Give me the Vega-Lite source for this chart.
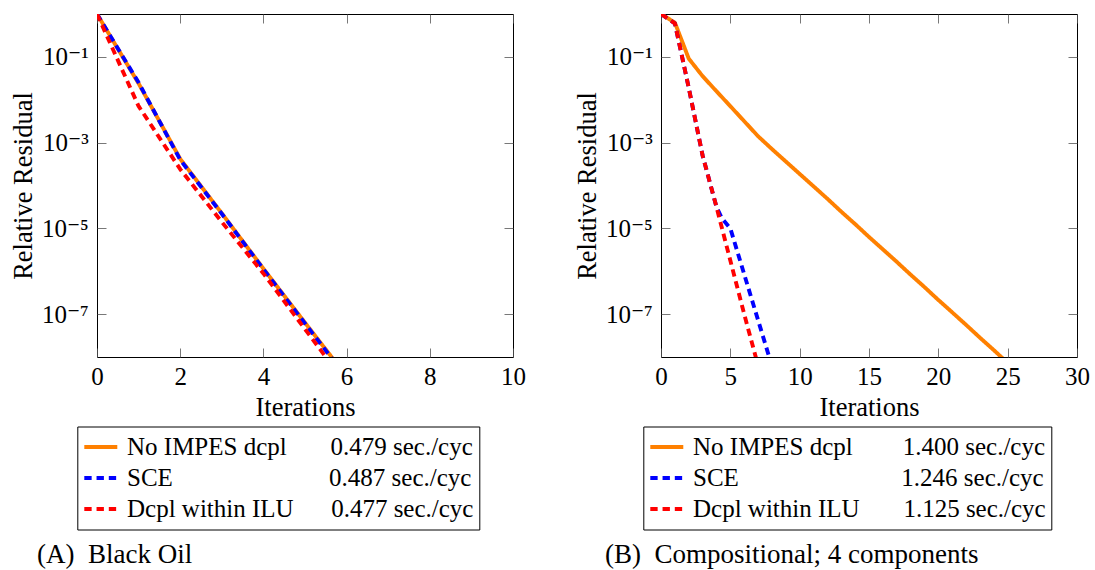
{
  "$schema": "https://vega.github.io/schema/vega-lite/v6.json",
  "background": "white",
  "padding": {"left": 9, "top": 13, "right": 5, "bottom": 0},
  "spacing": 148,
  "bounds": "flush",
  "config": {
    "font": "'Liberation Serif', 'Times New Roman', 'DejaVu Serif', serif",
    "view": {"stroke": "black", "strokeWidth": 1},
    "axis": {
      "labelFont": "'Liberation Serif', 'Times New Roman', 'DejaVu Serif', serif", "labelFontSize": 25, "labelColor": "black",
      "titleFont": "'Liberation Serif', 'Times New Roman', 'DejaVu Serif', serif", "titleFontSize": 26.5, "titleFontWeight": "normal", "titleColor": "black",
      "tickColor": "#555555", "tickWidth": 0.8, "tickSize": -9,
      "domain": false, "grid": false, "labelFlush": false, "labelOverlap": false, "labelBound": false
    },
    "legend": {
      "symbolType": "stroke", "symbolSize": 1089, "symbolStrokeWidth": 3.9,
      "clipHeight": 31, "rowPadding": 0, "padding": 5, "labelOffset": 7.7,
      "labelFont": "'Liberation Serif', 'Times New Roman', 'DejaVu Serif', serif", "labelFontSize": 25, "labelColor": "black", "labelLimit": 600,
      "strokeColor": "black", "fillColor": "white", "cornerRadius": 0
    },
    "title": {"font": "'Liberation Serif', 'Times New Roman', 'DejaVu Serif', serif", "fontSize": 27, "fontWeight": "normal", "color": "black"},
    "line": {"strokeWidth": 3.9, "strokeCap": "butt", "strokeJoin": "round"}
  },
  "resolve": {
    "scale": {"color": "independent", "strokeDash": "independent"},
    "legend": {"color": "independent", "strokeDash": "independent"}
  },
  "hconcat": [
    {
      "width": 416, "height": 343,
      "title": {"text": "(A)\u00a0\u00a0Black Oil", "orient": "bottom", "anchor": "start", "frame": "group", "dx": -60, "offset": 12},
      "data": {"values": [
        {"series": "No IMPES dcpl", "iter": 0, "res": 1},
        {"series": "No IMPES dcpl", "iter": 1, "res": 0.0240},
        {"series": "No IMPES dcpl", "iter": 2, "res": 4.17e-4},
        {"series": "No IMPES dcpl", "iter": 3, "res": 2.24e-5},
        {"series": "No IMPES dcpl", "iter": 4, "res": 1.15e-6},
        {"series": "No IMPES dcpl", "iter": 5, "res": 6.31e-8},
        {"series": "No IMPES dcpl", "iter": 6, "res": 3.55e-9},
        {"series": "SCE", "iter": 0, "res": 1},
        {"series": "SCE", "iter": 1, "res": 0.0251},
        {"series": "SCE", "iter": 2, "res": 3.98e-4},
        {"series": "SCE", "iter": 3, "res": 2.19e-5},
        {"series": "SCE", "iter": 4, "res": 1.12e-6},
        {"series": "SCE", "iter": 5, "res": 6.03e-8},
        {"series": "SCE", "iter": 6, "res": 3.31e-9},
        {"series": "Dcpl within ILU", "iter": 0, "res": 1},
        {"series": "Dcpl within ILU", "iter": 1, "res": 7.08e-3},
        {"series": "Dcpl within ILU", "iter": 2, "res": 2.40e-4},
        {"series": "Dcpl within ILU", "iter": 3, "res": 1.41e-5},
        {"series": "Dcpl within ILU", "iter": 4, "res": 8.91e-7},
        {"series": "Dcpl within ILU", "iter": 5, "res": 4.47e-8},
        {"series": "Dcpl within ILU", "iter": 6, "res": 2.24e-9}
      ]},
      "encoding": {
        "color": {
          "field": "series", "type": "nominal",
          "scale": {"domain": ["No IMPES dcpl", "SCE", "Dcpl within ILU"], "range": ["#ff8000", "#0000ff", "#ff0000"]},
          "legend": {
            "title": null, "orient": "none", "legendX": -19.7, "legendY": 412.5,
            "labelExpr": "datum.label == 'No IMPES dcpl' ? 'No IMPES dcpl' + pad('', 7, '\u00a0') + '0.479 sec./cyc\u00a0' : datum.label == 'SCE' ? 'SCE' + pad('', 25, '\u00a0') + '0.487 sec./cyc\u00a0' : 'Dcpl within ILU' + pad('', 6, '\u00a0') + '0.477 sec./cyc\u00a0'"
          }
        },
        "strokeDash": {
          "field": "series", "type": "nominal",
          "scale": {"domain": ["No IMPES dcpl", "SCE", "Dcpl within ILU"], "range": [[1, 0], [7.35, 4.9], [7.35, 4.9]]},
          "legend": {
            "title": null, "orient": "none", "legendX": -19.7, "legendY": 412.5,
            "labelExpr": "datum.label == 'No IMPES dcpl' ? 'No IMPES dcpl' + pad('', 7, '\u00a0') + '0.479 sec./cyc\u00a0' : datum.label == 'SCE' ? 'SCE' + pad('', 25, '\u00a0') + '0.487 sec./cyc\u00a0' : 'Dcpl within ILU' + pad('', 6, '\u00a0') + '0.477 sec./cyc\u00a0'"
          }
        }
      },
      "layer": [
        {
          "transform": [{"filter": "datum.series == 'No IMPES dcpl'"}],
          "mark": {"type": "line", "clip": true},
          "encoding": {
            "x": {"field": "iter", "type": "quantitative", "scale": {"domain": [0, 10], "nice": false, "zero": false},
                  "axis": {"orient": "bottom", "values": [0, 2, 4, 6, 8, 10], "title": "Iterations", "labelPadding": 16.6, "titlePadding": 5}},
            "y": {"field": "res", "type": "quantitative", "scale": {"type": "log", "domain": [1e-8, 1], "nice": false},
                  "axis": {"orient": "left", "values": [0.1, 0.001, 0.00001, 0.0000001], "title": "Relative Residual", "labelPadding": 17.7, "titlePadding": 4,
                           "labelExpr": "datum.value < 1e-6 ? '10\u207b\u2077' : datum.value < 1e-4 ? '10\u207b\u2075' : datum.value < 1e-2 ? '10\u207b\u00b3' : '10\u207b\u00b9'"}}
          }
        },
        {
          "transform": [{"filter": "datum.series == 'SCE'"}],
          "mark": {"type": "line", "clip": true},
          "encoding": {
            "x": {"field": "iter", "type": "quantitative", "scale": {"domain": [0, 10], "nice": false, "zero": false},
                  "axis": {"orient": "top", "values": [0, 2, 4, 6, 8, 10], "labels": false, "title": null}},
            "y": {"field": "res", "type": "quantitative", "scale": {"type": "log", "domain": [1e-8, 1], "nice": false},
                  "axis": {"orient": "right", "values": [0.1, 0.001, 0.00001, 0.0000001], "labels": false, "title": null}}
          }
        },
        {
          "transform": [{"filter": "datum.series == 'Dcpl within ILU'"}],
          "mark": {"type": "line", "clip": true},
          "encoding": {
            "x": {"field": "iter", "type": "quantitative", "scale": {"domain": [0, 10], "nice": false, "zero": false}, "axis": null},
            "y": {"field": "res", "type": "quantitative", "scale": {"type": "log", "domain": [1e-8, 1], "nice": false}, "axis": null}
          }
        }
      ],
      "resolve": {"axis": {"x": "independent", "y": "independent"}}
    },
    {
      "width": 416, "height": 343,
      "title": {"text": "(B)\u00a0\u00a0Compositional; 4 components", "orient": "bottom", "anchor": "start", "frame": "group", "dx": -56, "offset": 12},
      "data": {"values": [
        {"series": "No IMPES dcpl", "iter": 0, "res": 1},
        {"series": "No IMPES dcpl", "iter": 1, "res": 0.631},
        {"series": "No IMPES dcpl", "iter": 2, "res": 0.0912},
        {"series": "No IMPES dcpl", "iter": 3, "res": 0.0355},
        {"series": "No IMPES dcpl", "iter": 4, "res": 0.0158},
        {"series": "No IMPES dcpl", "iter": 5, "res": 0.00708},
        {"series": "No IMPES dcpl", "iter": 6, "res": 0.00316},
        {"series": "No IMPES dcpl", "iter": 7, "res": 0.00141},
        {"series": "No IMPES dcpl", "iter": 8, "res": 7.08e-4},
        {"series": "No IMPES dcpl", "iter": 9, "res": 3.63e-4},
        {"series": "No IMPES dcpl", "iter": 10, "res": 1.86e-4},
        {"series": "No IMPES dcpl", "iter": 11, "res": 9.55e-5},
        {"series": "No IMPES dcpl", "iter": 12, "res": 4.90e-5},
        {"series": "No IMPES dcpl", "iter": 13, "res": 2.45e-5},
        {"series": "No IMPES dcpl", "iter": 14, "res": 1.26e-5},
        {"series": "No IMPES dcpl", "iter": 15, "res": 6.31e-6},
        {"series": "No IMPES dcpl", "iter": 16, "res": 3.24e-6},
        {"series": "No IMPES dcpl", "iter": 17, "res": 1.66e-6},
        {"series": "No IMPES dcpl", "iter": 18, "res": 8.32e-7},
        {"series": "No IMPES dcpl", "iter": 19, "res": 4.27e-7},
        {"series": "No IMPES dcpl", "iter": 20, "res": 2.14e-7},
        {"series": "No IMPES dcpl", "iter": 21, "res": 1.10e-7},
        {"series": "No IMPES dcpl", "iter": 22, "res": 5.62e-8},
        {"series": "No IMPES dcpl", "iter": 23, "res": 2.82e-8},
        {"series": "No IMPES dcpl", "iter": 24, "res": 1.45e-8},
        {"series": "No IMPES dcpl", "iter": 25, "res": 7.24e-9},
        {"series": "SCE", "iter": 0, "res": 1},
        {"series": "SCE", "iter": 1, "res": 0.603},
        {"series": "SCE", "iter": 2, "res": 0.0191},
        {"series": "SCE", "iter": 3, "res": 5.01e-4},
        {"series": "SCE", "iter": 4, "res": 3.16e-5},
        {"series": "SCE", "iter": 4.4, "res": 1.70e-5},
        {"series": "SCE", "iter": 5, "res": 1.0e-5},
        {"series": "SCE", "iter": 6, "res": 8.51e-7},
        {"series": "SCE", "iter": 7, "res": 7.24e-8},
        {"series": "SCE", "iter": 8, "res": 6.17e-9},
        {"series": "Dcpl within ILU", "iter": 0, "res": 1},
        {"series": "Dcpl within ILU", "iter": 1, "res": 0.603},
        {"series": "Dcpl within ILU", "iter": 2, "res": 0.0191},
        {"series": "Dcpl within ILU", "iter": 3, "res": 5.01e-4},
        {"series": "Dcpl within ILU", "iter": 4, "res": 3.16e-5},
        {"series": "Dcpl within ILU", "iter": 5, "res": 1.78e-6},
        {"series": "Dcpl within ILU", "iter": 6, "res": 1.0e-7},
        {"series": "Dcpl within ILU", "iter": 7, "res": 6.31e-9}
      ]},
      "encoding": {
        "color": {
          "field": "series", "type": "nominal",
          "scale": {"domain": ["No IMPES dcpl", "SCE", "Dcpl within ILU"], "range": ["#ff8000", "#0000ff", "#ff0000"]},
          "legend": {
            "title": null, "orient": "none", "legendX": -17.7, "legendY": 412.5,
            "labelExpr": "datum.label == 'No IMPES dcpl' ? 'No IMPES dcpl' + pad('', 8, '\u00a0') + '1.400 sec./cyc\u00a0' : datum.label == 'SCE' ? 'SCE' + pad('', 26, '\u00a0') + '1.246 sec./cyc\u00a0' : 'Dcpl within ILU' + pad('', 7, '\u00a0') + '1.125 sec./cyc\u00a0'"
          }
        },
        "strokeDash": {
          "field": "series", "type": "nominal",
          "scale": {"domain": ["No IMPES dcpl", "SCE", "Dcpl within ILU"], "range": [[1, 0], [7.35, 4.9], [7.35, 4.9]]},
          "legend": {
            "title": null, "orient": "none", "legendX": -17.7, "legendY": 412.5,
            "labelExpr": "datum.label == 'No IMPES dcpl' ? 'No IMPES dcpl' + pad('', 8, '\u00a0') + '1.400 sec./cyc\u00a0' : datum.label == 'SCE' ? 'SCE' + pad('', 26, '\u00a0') + '1.246 sec./cyc\u00a0' : 'Dcpl within ILU' + pad('', 7, '\u00a0') + '1.125 sec./cyc\u00a0'"
          }
        }
      },
      "layer": [
        {
          "transform": [{"filter": "datum.series == 'No IMPES dcpl'"}],
          "mark": {"type": "line", "clip": true},
          "encoding": {
            "x": {"field": "iter", "type": "quantitative", "scale": {"domain": [0, 30], "nice": false, "zero": false},
                  "axis": {"orient": "bottom", "values": [0, 5, 10, 15, 20, 25, 30], "title": "Iterations", "labelPadding": 16.6, "titlePadding": 5}},
            "y": {"field": "res", "type": "quantitative", "scale": {"type": "log", "domain": [1e-8, 1], "nice": false},
                  "axis": {"orient": "left", "values": [0.1, 0.001, 0.00001, 0.0000001], "title": "Relative Residual", "labelPadding": 17.7, "titlePadding": 4,
                           "labelExpr": "datum.value < 1e-6 ? '10\u207b\u2077' : datum.value < 1e-4 ? '10\u207b\u2075' : datum.value < 1e-2 ? '10\u207b\u00b3' : '10\u207b\u00b9'"}}
          }
        },
        {
          "transform": [{"filter": "datum.series == 'SCE'"}],
          "mark": {"type": "line", "clip": true},
          "encoding": {
            "x": {"field": "iter", "type": "quantitative", "scale": {"domain": [0, 30], "nice": false, "zero": false},
                  "axis": {"orient": "top", "values": [0, 5, 10, 15, 20, 25, 30], "labels": false, "title": null}},
            "y": {"field": "res", "type": "quantitative", "scale": {"type": "log", "domain": [1e-8, 1], "nice": false},
                  "axis": {"orient": "right", "values": [0.1, 0.001, 0.00001, 0.0000001], "labels": false, "title": null}}
          }
        },
        {
          "transform": [{"filter": "datum.series == 'Dcpl within ILU'"}],
          "mark": {"type": "line", "clip": true},
          "encoding": {
            "x": {"field": "iter", "type": "quantitative", "scale": {"domain": [0, 30], "nice": false, "zero": false}, "axis": null},
            "y": {"field": "res", "type": "quantitative", "scale": {"type": "log", "domain": [1e-8, 1], "nice": false}, "axis": null}
          }
        }
      ],
      "resolve": {"axis": {"x": "independent", "y": "independent"}}
    }
  ]
}
